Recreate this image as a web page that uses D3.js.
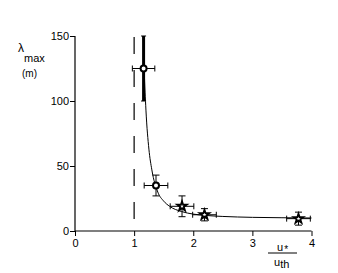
<!DOCTYPE html>
<html><head><meta charset="utf-8">
<script src="https://cdn.jsdelivr.net/npm/d3@7"></script>
<style>body{margin:0;background:#fff}svg text{font-family:"Liberation Sans",Arial,sans-serif;fill:#000}</style>
</head><body><svg id="c" width="338" height="273"></svg>
<script>
const xTicks=[0,1,2,3,4];
const yTicks=[0,50,100,150];
const ptX=[1.16,1.37,1.81,2.19,3.78];
const ptY=[125,35,19,12.5,9.5];
const ptXErr=[0.19,0.2,0.2,0.2,0.2];
const ptYErr=[25,8,8,4.7,5];
const ptShape=["circle","circle","star","star","star"];
const curveX=[1.155,1.17,1.2,1.25,1.3,1.4,1.5,1.6,1.8,2.0,2.2,2.5,3.0,3.5,4.0];
const curveY=[150,125,93,63,47,30,23,19,15,13,12,11.2,10.5,10.2,10];
const thresholdX=1;

const svg=d3.select("#c");
const x=d3.scaleLinear().domain([0,4]).range([75,311.5]);
const y=d3.scaleLinear().domain([0,150]).range([231,36]);

// axes
const xa=svg.append("g").attr("transform","translate(0,231)")
  .call(d3.axisBottom(x).tickValues(xTicks).tickSize(5).tickPadding(3).tickFormat(d3.format("d")));
const ya=svg.append("g").attr("transform","translate(75,0)")
  .call(d3.axisLeft(y).tickValues(yTicks).tickSize(5).tickPadding(1).tickFormat(d3.format("d")));
[xa,ya].forEach(a=>{a.select(".domain").attr("stroke","#000").attr("stroke-width",1.2);
  a.selectAll(".tick line").attr("stroke","#000");
  a.selectAll("text").style("font-size","11px").attr("fill","#000");});
xa.select(".domain").attr("d",`M${x(0)},0H${x(4)}`);
ya.select(".domain").attr("d",`M0,${y(0)}V${y(150)}`);

// dashed threshold
svg.append("line").attr("x1",x(thresholdX)).attr("x2",x(thresholdX))
  .attr("y1",y(150)+1).attr("y2",y(9)).attr("stroke","#000").attr("stroke-width",1.2)
  .attr("stroke-dasharray","17,16");

// fitted curve
svg.append("path").datum(curveX.map((v,i)=>[v,curveY[i]]))
  .attr("d",d3.line().x(d=>x(d[0])).y(d=>y(d[1])).curve(d3.curveMonotoneX))
  .attr("fill","none").attr("stroke","#000").attr("stroke-width",1);

// error bars
const g=svg.append("g").attr("stroke","#000").attr("fill","none");
ptX.forEach((v,i)=>{
  const cx=x(v),cy=y(ptY[i]);
  const x0=x(v-ptXErr[i]),x1=x(v+ptXErr[i]);
  const y0=y(ptY[i]+ptYErr[i]),y1=y(ptY[i]-ptYErr[i]);
  const w=i===0?3:1;
  g.append("line").attr("x1",x0).attr("x2",x1).attr("y1",cy).attr("y2",cy).attr("stroke-width",1);
  g.append("line").attr("x1",x0).attr("x2",x0).attr("y1",cy-3).attr("y2",cy+3);
  g.append("line").attr("x1",x1).attr("x2",x1).attr("y1",cy-3).attr("y2",cy+3);
  g.append("line").attr("x1",cx).attr("x2",cx).attr("y1",y0).attr("y2",y1).attr("stroke-width",w);
  const cw=i===0?2.5:3.5;
  g.append("line").attr("x1",cx-cw).attr("x2",cx+cw).attr("y1",y0).attr("y2",y0);
  g.append("line").attr("x1",cx-cw).attr("x2",cx+cw).attr("y1",y1).attr("y2",y1);
});
// markers
ptX.forEach((v,i)=>{
  const cx=x(v),cy=y(ptY[i]);
  if(ptShape[i]==="circle"){
    svg.append("circle").attr("cx",cx).attr("cy",cy).attr("r",3).attr("fill","#fff").attr("stroke","#000").attr("stroke-width",2);
  } else {
    svg.append("path").attr("d",d3.symbol().type(d3.symbolStar).size(28)())
      .attr("transform",`translate(${cx},${cy})`).attr("fill","#fff").attr("stroke","#000").attr("stroke-width",1.8);
  }
});

// y label
const yl=svg.append("text").attr("x",18).attr("y",52).style("font-size","12px");
yl.append("tspan").text("λ");
yl.append("tspan").attr("dy",10).style("font-size","11px").text("max");
svg.append("text").attr("x",22).attr("y",77).style("font-size","10px").text("(m)");

// x label
const ul=svg.append("text").attr("x",277).attr("y",251).style("font-size","11px");
ul.append("tspan").text("u");
ul.append("tspan").attr("dx",1).attr("dy",2).style("font-size","10px").text("*");
svg.append("line").attr("x1",268).attr("x2",297).attr("y1",253).attr("y2",253).attr("stroke","#000").attr("stroke-width",1);
const tl=svg.append("text").attr("x",274).attr("y",266).style("font-size","11px");
tl.append("tspan").text("u");
tl.append("tspan").attr("dy",2).text("th");
</script></body></html>
